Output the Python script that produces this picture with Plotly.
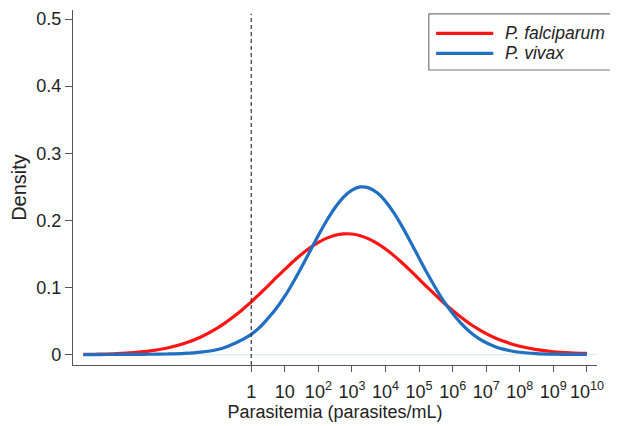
import plotly.graph_objects as go

# log10 parasitemia (parasites/mL)
log_parasitemia = [-5, -4.5, -4, -3.5, -3, -2.5, -2, -1.5, -1,
                   -0.75, -0.5, -0.25, 0, 0.25, 0.5, 0.75, 1, 1.25, 1.5, 1.75, 2,
                   2.25, 2.5, 2.75, 3, 3.25, 3.5, 3.75, 4, 4.25, 4.5, 4.75, 5,
                   5.25, 5.5, 5.75, 6, 6.25, 6.5, 6.75, 7, 7.25, 7.5, 7.75, 8,
                   8.5, 9, 9.5, 10]

falciparum_density = [0.0003, 0.0007, 0.0015, 0.0030, 0.0055, 0.0098, 0.0164, 0.0262, 0.0398,
                      0.0481, 0.0574, 0.0676, 0.0784, 0.0904, 0.1024, 0.1149, 0.1268, 0.1387, 0.1495, 0.1591, 0.1672,
                      0.1735, 0.1778, 0.1798, 0.1796, 0.1771, 0.1724, 0.1657, 0.1573, 0.1474, 0.1364, 0.1246, 0.1124,
                      0.1001, 0.0881, 0.0764, 0.0655, 0.0555, 0.0463, 0.0383, 0.0312, 0.0251, 0.0200, 0.0158, 0.0123,
                      0.0073, 0.0042, 0.0025, 0.0016]

vivax_density = [0.0000, 0.0000, 0.0001, 0.0002, 0.0004, 0.0008, 0.0016, 0.0035, 0.0075,
                 0.0112, 0.0165, 0.0225, 0.0300, 0.0405, 0.0540, 0.0690, 0.0870, 0.1078, 0.1305, 0.1541, 0.1776,
                 0.1997, 0.2191, 0.2345, 0.2450, 0.2498, 0.2484, 0.2411, 0.2283, 0.2110, 0.1902, 0.1674, 0.1437,
                 0.1203, 0.0984, 0.0784, 0.0610, 0.0464, 0.0344, 0.0248, 0.0175, 0.0121, 0.0081, 0.0053, 0.0034,
                 0.0013, 0.0005, 0.0002, 0.0001]

x_tick_vals = [0, 1, 2, 3, 4, 5, 6, 7, 8, 9, 10]
x_tick_text = ["1", "10", "10<sup>2</sup>", "10<sup>3</sup>", "10<sup>4</sup>", "10<sup>5</sup>",
               "10<sup>6</sup>", "10<sup>7</sup>", "10<sup>8</sup>", "10<sup>9</sup>", "10<sup>10</sup>"]
y_tick_vals = [0, 0.1, 0.2, 0.3, 0.4, 0.5]
y_tick_text = ["0", "0.1", "0.2", "0.3", "0.4", "0.5"]

series_names = ["P. falciparum", "P. vivax"]
RED = "#ff1414"
BLUE = "#1f6fc2"
FONT = "Liberation Sans, Arial, sans-serif"
TXT = "#222222"

fig = go.Figure()
fig.add_trace(go.Scatter(x=log_parasitemia, y=falciparum_density, mode="lines",
                         name=series_names[0], line=dict(color=RED, width=3.2, shape="spline", smoothing=1.0),
                         showlegend=False))
fig.add_trace(go.Scatter(x=log_parasitemia, y=vivax_density, mode="lines",
                         name=series_names[1], line=dict(color=BLUE, width=3.2, shape="spline", smoothing=1.0),
                         showlegend=False))

x_range = [-5.31, 10.30]
y_range = [-0.0156, 0.5135]

# faint zero line
fig.add_shape(type="line", xref="x", yref="y", x0=-5, x1=x_range[1], y0=0, y1=0,
              line=dict(color="#dcecef", width=1.2), layer="below")
# threshold at 1 parasite/mL
fig.add_shape(type="line", xref="x", yref="y", x0=0, x1=0, y0=y_range[0], y1=0.508,
              line=dict(color="#333333", width=1.2, dash="4px,3px"))

# legend box drawn by hand (to match the sample-line length)
fig.add_shape(type="rect", xref="paper", yref="paper", x0=0.679, x1=1.036, y0=0.831, y1=0.989,
              line=dict(color="#777777", width=1.2), fillcolor="white")
legend_y = [0.934, 0.878]
for name, col, ly in zip(series_names, [RED, BLUE], legend_y):
    fig.add_shape(type="line", xref="paper", yref="paper", x0=0.693, x1=0.802, y0=ly, y1=ly,
                  line=dict(color=col, width=3.2))
    fig.add_annotation(xref="paper", yref="paper", x=0.8206, y=ly, text=f"<i>{name}</i>",
                       showarrow=False, xanchor="left", yanchor="middle",
                       font=dict(family=FONT, size=17.5, color=TXT))

# the page body has an 8px margin, so the figure is made 8px smaller each way
fig.update_layout(
    width=610, height=418,
    margin=dict(l=65, r=21, t=2, b=61),
    plot_bgcolor="white", paper_bgcolor="white",
    font=dict(family=FONT, size=17, color=TXT),
    showlegend=False,
    xaxis=dict(range=x_range, tickmode="array", tickvals=x_tick_vals, ticktext=x_tick_text,
               showline=True, linecolor="#555555", linewidth=1.2, ticks="outside", ticklen=6,
               tickcolor="#555555", showgrid=False, zeroline=False, automargin=False,
               tickfont=dict(size=18, color=TXT), ticklabelstandoff=4,
               title=dict(text="Parasitemia (parasites/mL)", font=dict(size=18, color=TXT), standoff=4)),
    yaxis=dict(range=y_range, tickmode="array", tickvals=y_tick_vals, ticktext=y_tick_text,
               showline=True, linecolor="#555555", linewidth=1.2, ticks="outside", ticklen=7,
               tickcolor="#555555", showgrid=False, zeroline=False, automargin=False,
               tickfont=dict(size=18, color=TXT),
               title=dict(text="Density", font=dict(size=20, color=TXT), standoff=6)),
)

fig.write_html("out.html")
